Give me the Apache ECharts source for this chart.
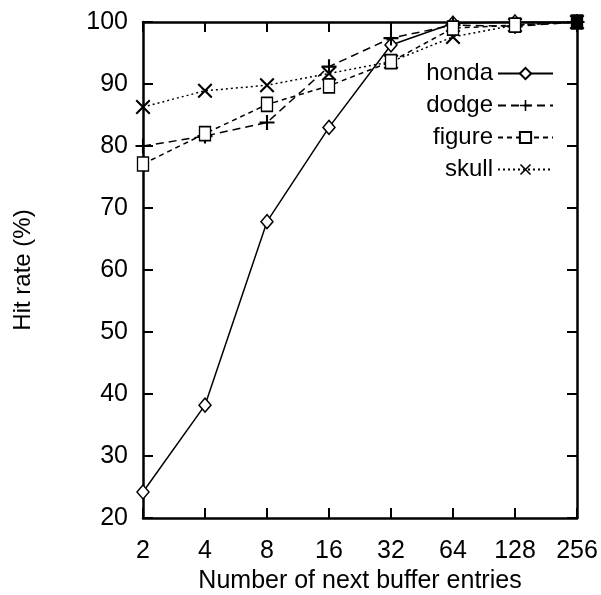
<!DOCTYPE html>
<html>
<head>
<meta charset="utf-8">
<script src="https://cdn.jsdelivr.net/npm/echarts@6/dist/echarts.min.js"></script>
<style>
  html, body { margin: 0; padding: 0; background: #fff; }
  #chart-box { width: 601px; height: 595px; }
</style>
</head>
<body>
<div id="chart-box"></div>
<script>
const categories = ['2', '4', '8', '16', '32', '64', '128', '256']
const honda = [24.2, 38.2, 67.8, 83, 96.3, 99.8, 100, 100]
const dodge = [80, 81.6, 83.8, 92.8, 97.4, 99.5, 99.3, 100]
const figure = [77.1, 82, 86.7, 89.7, 93.6, 99, 99.5, 100]
const skull = [86.3, 88.9, 89.8, 91.7, 93.6, 97.6, 99.5, 100]

const font = '"Liberation Sans", Arial, sans-serif'
const plusPath = 'path://M4.3,0 H5.7 V4.3 H10 V5.7 H5.7 V10 H4.3 V5.7 H0 V4.3 H4.3 Z'
const crossPath = 'path://M0,1 L1,0 L10,9 L9,10 Z M9,0 L10,1 L1,10 L0,9 Z'

function mkSeries(name, data, lineType, symbol, size, hollow, z) {
    return {
        name: name,
        type: 'line',
        data: data,
        symbol: symbol,
        symbolSize: size,
        showAllSymbol: true,
        lineStyle: {color: '#000', width: 1.5, type: lineType},
        itemStyle: hollow
            ? {color: '#fff', borderColor: '#000', borderWidth: 1.5}
            : {color: '#000', borderWidth: 0},
        emphasis: {disabled: true},
        z: z
    }
}

// the last figure point is drawn filled, as in the original plot
const figureData = figure.map((v, i) => i === figure.length - 1
    ? {value: v, itemStyle: {color: '#000'}} : v)

let chart = echarts.init(document.getElementById('chart-box'))
chart.setOption({
    animation: false,
    textStyle: {fontFamily: font, color: '#000'},
    grid: {left: 143, right: 24, top: 22, bottom: 77, containLabel: false, outerBoundsMode: 'none'},
    legend: {
        orient: 'vertical',
        right: 42,
        top: 56,
        align: 'right',
        itemWidth: 55,
        itemHeight: 14,
        itemGap: 7,
        textStyle: {fontSize: 24, lineHeight: 25, color: '#000', fontFamily: font},
        data: ['honda', 'dodge', 'figure', 'skull']
    },
    xAxis: [{
        type: 'category',
        data: categories,
        boundaryGap: false,
        name: 'Number of next buffer entries',
        nameLocation: 'middle',
        nameGap: 51,
        nameTextStyle: {fontSize: 25, color: '#000', fontFamily: font},
        axisLine: {lineStyle: {color: '#000', width: 2.5}},
        axisTick: {inside: true, length: 10, lineStyle: {color: '#000', width: 2}},
        axisLabel: {fontSize: 25, color: '#000', margin: 21, fontFamily: font},
        splitLine: {show: false}
    }, {
        type: 'category',
        data: categories,
        boundaryGap: false,
        position: 'top',
        axisLine: {lineStyle: {color: '#000', width: 2.5}},
        axisTick: {inside: true, length: 10, lineStyle: {color: '#000', width: 2}},
        axisLabel: {show: false},
        splitLine: {show: false}
    }],
    yAxis: [{
        type: 'value',
        min: 20,
        max: 100,
        interval: 10,
        name: 'Hit rate (%)',
        nameLocation: 'middle',
        nameRotate: 90,
        nameGap: 108,
        nameTextStyle: {fontSize: 24, color: '#000', fontFamily: font},
        axisLine: {show: true, lineStyle: {color: '#000', width: 2.5}},
        axisTick: {show: true, inside: true, length: 10, lineStyle: {color: '#000', width: 2}},
        axisLabel: {fontSize: 25, color: '#000', margin: 15, fontFamily: font},
        splitLine: {show: false}
    }, {
        type: 'value',
        min: 20,
        max: 100,
        interval: 10,
        position: 'right',
        axisLine: {show: true, lineStyle: {color: '#000', width: 2.5}},
        axisTick: {show: true, inside: true, length: 10, lineStyle: {color: '#000', width: 2}},
        axisLabel: {show: false},
        splitLine: {show: false}
    }],
    series: [
        mkSeries('honda', honda, 'solid', 'diamond', [12, 14], true, 3),
        mkSeries('dodge', dodge, [8, 5], plusPath, 15, false, 3),
        mkSeries('figure', figureData, [5, 4], 'rect', [11, 14], true, 4),
        mkSeries('skull', skull, [2, 3], crossPath, 15, false, 3)
    ]
})
</script>
</body>
</html>
